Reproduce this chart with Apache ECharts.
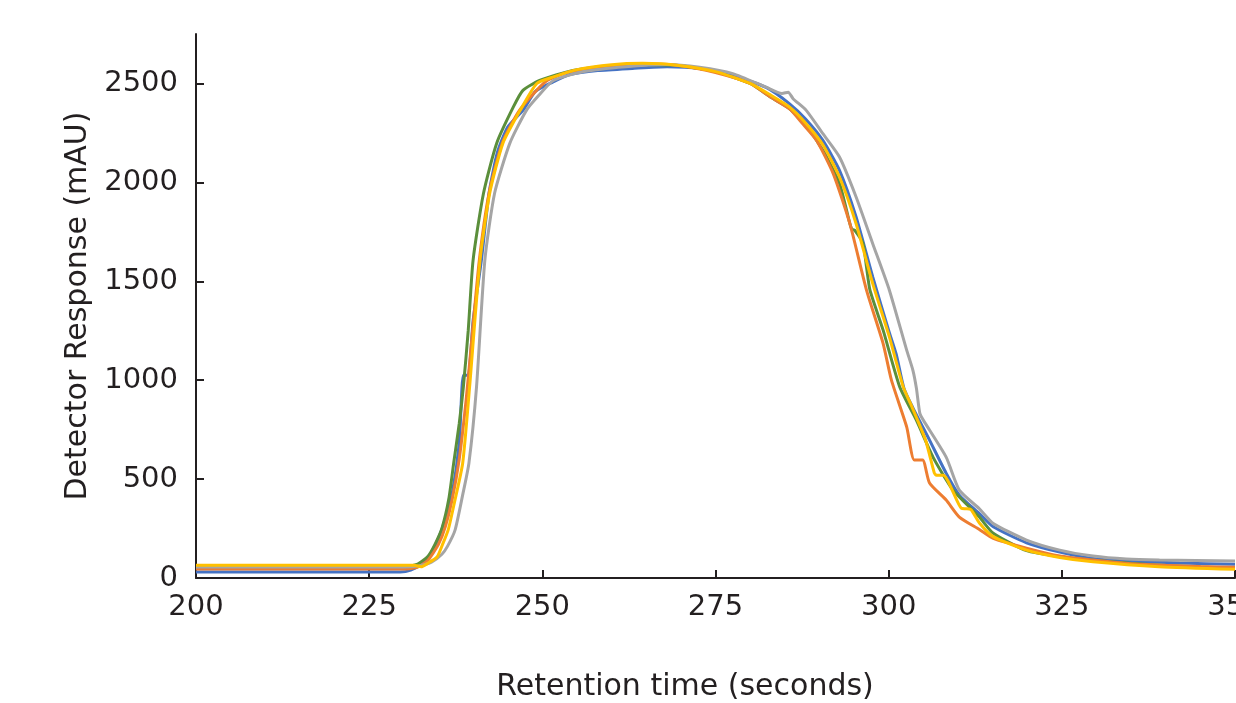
<!DOCTYPE html>
<html>
<head>
<meta charset="utf-8">
<title>Detector response</title>
<script src="https://cdn.jsdelivr.net/npm/echarts@6/dist/echarts.min.js"></script>
<style>
  html, body { margin: 0; padding: 0; background: #fff; }
  #chart { width: 1236px; height: 703px; }
</style>
</head>
<body>
<div id="chart"></div>
<script>
// tick labels
var xTicks = [200, 225, 250, 275, 300, 325, 350];
var yTicks = [0, 500, 1000, 1500, 2000, 2500];

// [retention time (s), response (mAU)]
var blueRun = [[200,30],[229.5,30],[231,40],[232.5,70],[234,130],[235,200],[236,300],[237,430],[238,680],[238.6,1025],[239.3,1025],[240,1300],[241.2,1606],[242.3,1944],[243.5,2150],[245,2280],[247.2,2364],[249,2460],[251.5,2507],[254,2545],[258,2565],[263,2576],[268,2585],[272.7,2576],[277.5,2540],[282.3,2480],[285.7,2397],[288,2320],[290.5,2212],[292.9,2061],[295.3,1825],[297.7,1522],[300.1,1240],[301.1,1130],[302.2,960],[303.5,860],[305.9,697],[308.3,530],[310.2,419],[313.1,325],[315.1,259],[319.9,178],[324.7,131],[329.5,99],[334.3,86],[342,76],[350,69]];
var orangeRun = [[200,45],[230,45],[232,55],[233.5,90],[235,170],[236,260],[237,400],[238,600],[239,900],[239.8,1200],[240.9,1606],[242.3,1944],[244.2,2197],[246.7,2364],[250.5,2510],[254,2560],[260,2590],[265,2600],[270,2590],[275,2555],[280,2500],[283,2430],[285.7,2372],[287.5,2300],[289.6,2212],[292,2044],[294.4,1791],[296.8,1455],[299.2,1185],[300.4,1000],[302.6,764],[303.7,596],[304.9,596],[305.9,480],[308.3,394],[310.2,308],[313.1,245],[315.1,200],[319.9,151],[324.7,111],[329.5,91],[335,72],[340,64],[345,58],[350,54]];
var grayRun = [[200,55],[230,55],[232,60],[234,80],[235.5,120],[236.3,160],[237.4,242],[238.5,420],[239.4,580],[240.5,966],[241.7,1606],[243.1,1944],[245.3,2197],[247.7,2364],[249.5,2440],[251.6,2515],[256,2560],[262,2585],[267.9,2596],[272.7,2582],[277.5,2550],[282.3,2481],[284.6,2449],[285.5,2456],[286.2,2423],[288.1,2364],[290.5,2246],[292.9,2128],[295.3,1926],[297.7,1690],[300.1,1455],[302.6,1152],[303.5,1050],[304,960],[304.5,832],[305,798],[308.3,611],[310.2,444],[313.1,350],[315.1,276],[319.9,192],[324.7,141],[329.5,111],[334.3,96],[339.1,91],[350,86]];
var yellowRun = [[200,65],[230,65],[231.5,65],[232.5,57],[233.5,75],[234.8,106],[235.6,170],[236.4,242],[237.3,380],[238.5,580],[239.5,966],[241,1606],[242.4,1944],[244.3,2197],[246.8,2364],[249.2,2500],[251.5,2532],[255,2570],[260,2595],[264.5,2602],[270,2590],[275,2560],[280,2500],[283,2440],[285.7,2380],[288,2300],[290.5,2190],[292.9,2027],[295.3,1791],[297.7,1488],[300.1,1219],[302.1,966],[303.3,870],[305.3,700],[306.6,530],[306.9,520],[307.9,520],[310.5,352],[311.2,350],[311.9,345],[313.1,278],[315.1,209],[319.9,141],[324.7,104],[329.5,82],[339,57],[350,44]];
var greenRun = [[200,55],[230,55],[232,70],[233.5,110],[234.5,170],[235.5,250],[236.5,400],[237.2,580],[238,780],[238.6,966],[239.3,1250],[240,1606],[241.5,1944],[243.4,2197],[245.8,2380],[247.2,2465],[249.6,2515],[254.4,2566],[260,2590],[265,2595],[270,2590],[275,2560],[280,2500],[283,2430],[285.7,2372],[288,2290],[290.5,2162],[292.9,1994],[294.4,1791],[294.7,1762],[295.1,1758],[296.3,1690],[296.8,1572],[297.3,1455],[299.2,1253],[301.6,966],[304,798],[306.4,611],[309.3,444],[313.1,308],[315.1,226],[319.9,138],[324.7,108],[330,88],[335,74],[340,63],[345,55],[350,49]];

var ink = '#231f20';
var font = 'DejaVu Sans';

function run(name, data, color) {
  return {
    name: name,
    type: 'line',
    data: data,
    showSymbol: false,
    smooth: 0.2,
    lineStyle: { color: color, width: 3 },
    itemStyle: { color: color }
  };
}

var chart = echarts.init(document.getElementById('chart'));
chart.setOption({
  animation: false,
  backgroundColor: '#fff',
  grid: { left: 196, right: 1, top: 34, bottom: 125, outerBoundsMode: 'none', containLabel: false },
  xAxis: {
    type: 'value',
    min: 200,
    max: 350,
    interval: 25,
    name: 'Retention time (seconds)',
    nameLocation: 'middle',
    nameGap: 94,
    nameTextStyle: { fontSize: 30, color: ink, fontFamily: font, padding: [0, 61, 0, 0] },
    axisLine: { lineStyle: { color: ink, width: 2 } },
    axisTick: { inside: true, length: 8, lineStyle: { color: ink, width: 2 } },
    axisLabel: { fontSize: 29, color: ink, fontFamily: font, margin: 15, customValues: xTicks,
      formatter: function (v) { return String(v); } },
    splitLine: { show: false }
  },
  yAxis: {
    type: 'value',
    min: 0,
    max: 2750,
    name: 'Detector Response (mAU)',
    nameLocation: 'middle',
    nameGap: 100,
    nameTextStyle: { fontSize: 30, color: ink, fontFamily: font },
    axisLine: { show: true, lineStyle: { color: ink, width: 2 } },
    axisTick: { show: true, inside: true, length: 8, lineStyle: { color: ink, width: 2 }, customValues: yTicks },
    axisLabel: { fontSize: 29, color: ink, fontFamily: font, margin: 18, customValues: yTicks,
      formatter: function (v) { return String(v); } },
    splitLine: { show: false }
  },
  series: [
    run('Run 1', blueRun, '#4472c4'),
    run('Run 5', greenRun, '#5b8f3b'),
    run('Run 2', orangeRun, '#ed7d31'),
    run('Run 3', grayRun, '#a5a5a5'),
    run('Run 4', yellowRun, '#ffc000')
  ]
});
</script>
</body>
</html>
